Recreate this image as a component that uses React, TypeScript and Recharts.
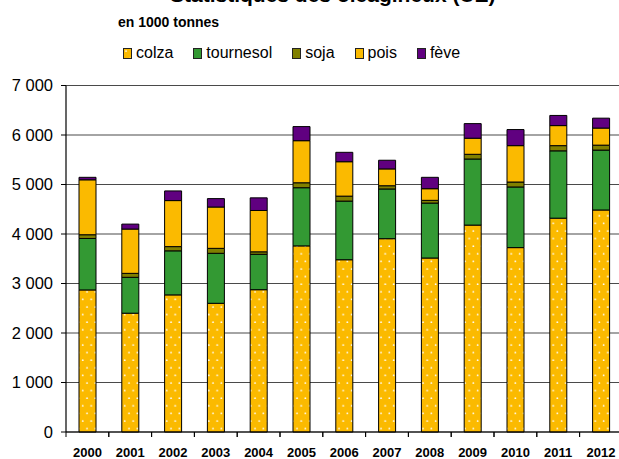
import React from "react";
import { BarChart, Bar, XAxis, YAxis, CartesianGrid } from "recharts";

const years = ["2000","2001","2002","2003","2004","2005","2006","2007","2008","2009","2010","2011","2012"];
const colza = [2870, 2400, 2770, 2600, 2875, 3760, 3480, 3905, 3515, 4180, 3725, 4320, 4485];
const tournesol = [1040, 725, 890, 1010, 715, 1175, 1185, 1005, 1110, 1335, 1225, 1360, 1210];
const soja = [75, 80, 85, 100, 50, 100, 100, 65, 55, 95, 100, 105, 100];
const pois = [1110, 895, 930, 835, 835, 850, 695, 340, 235, 325, 735, 405, 345];
const feve = [50, 100, 195, 170, 255, 285, 190, 175, 230, 295, 325, 205, 200];
const yTicks = [0, 1000, 2000, 3000, 4000, 5000, 6000, 7000];

const seriesNames = ["colza", "tournesol", "soja", "pois", "fève"];
const seriesKeys = ["colza", "tournesol", "soja", "pois", "feve"];
const seriesFills = ["url(#colzaDots)", "#339933", "#808000", "#FBBA00", "#600080"];

const data = years.map((y, i) => ({
  year: y,
  colza: colza[i],
  tournesol: tournesol[i],
  soja: soja[i],
  pois: pois[i],
  feve: feve[i],
}));

const CHART_W = 640;
const CHART_H = 459;
const MARGIN = { top: 85.5, right: 17.6, bottom: 0, left: 0 };
const Y_W = 66;
const X_H = 27;
const HALF_STEP = (CHART_W - MARGIN.left - MARGIN.right - Y_W) / years.length / 2;

const font = "Arial, 'Liberation Sans', sans-serif";

const fmt = (v: number) => {
  const s = String(v);
  return s.length > 3 ? s.slice(0, s.length - 3) + " " + s.slice(-3) : s;
};

const XTick = (props: any) => {
  const { x, y, payload } = props;
  return (
    <g>
      <line x1={x - HALF_STEP} x2={x - HALF_STEP} y1={y} y2={y + 5} stroke="#000" strokeWidth={1} />
      <line x1={x + HALF_STEP} x2={x + HALF_STEP} y1={y} y2={y + 5} stroke="#000" strokeWidth={1} />
      <text x={x} y={y + 16} dy="0.71em" textAnchor="middle" fontFamily={font} fontWeight="bold" fontSize={13} fill="#000">
        {payload.value}
      </text>
    </g>
  );
};

export default function App() {
  return (
    <div style={{ position: "absolute", left: 0, top: 0, width: 619, height: 459, overflow: "hidden", background: "#fff" }}>
      <svg width={0} height={0} style={{ position: "absolute" }}>
        <defs>
          <pattern id="colzaDots" patternUnits="userSpaceOnUse" width={8.4} height={15.2}>
            <rect x={0} y={0} width={8.4} height={15.2} fill="#FBBA00" />
            <circle cx={3} cy={3} r={0.9} fill="#fff" />
            <circle cx={7.2} cy={10.6} r={0.9} fill="#fff" />
          </pattern>
        </defs>
      </svg>
      <svg width={619} height={12} style={{ position: "absolute", left: 0, top: 0 }}>
        <text x={170} y={1.6} fontFamily={font} fontWeight="bold" fontSize={21} fill="#000">
          Statistiques des oléagineux (UE)
        </text>
      </svg>
      <div style={{ position: "absolute", left: 118, top: 13.5, lineHeight: "16px", fontFamily: font, fontWeight: "bold", fontSize: 14, whiteSpace: "nowrap" }}>
        en 1000 tonnes
      </div>
      <div style={{ position: "absolute", left: 123, top: 44, display: "flex", alignItems: "center", gap: 20, fontFamily: font, fontSize: 16, lineHeight: "18px", whiteSpace: "nowrap" }}>
        {seriesNames.map((n, i) => (
          <div key={n} style={{ display: "flex", alignItems: "center" }}>
            <svg width={9} height={11} style={{ marginRight: 4 }}>
              <rect x={0.5} y={0.5} width={8} height={10} fill={seriesFills[i]} stroke="#222" strokeWidth={1} />
            </svg>
            <span>{n}</span>
          </div>
        ))}
      </div>
      <div style={{ position: "absolute", left: 0, top: 0 }}>
        <BarChart width={CHART_W} height={CHART_H} data={data} margin={MARGIN} barSize={17}>
          <CartesianGrid vertical={false} stroke="#4a4a4a" strokeWidth={1.2} />
          <XAxis
            dataKey="year"
            height={X_H}
            axisLine={{ stroke: "#000", strokeWidth: 1.2 }}
            tickLine={false}
            tickSize={0}
            tickMargin={0}
            interval={0}
            tick={<XTick />}
          />
          <YAxis
            width={Y_W}
            domain={[0, 7000]}
            ticks={yTicks}
            interval={0}
            tickFormatter={fmt}
            axisLine={{ stroke: "#000", strokeWidth: 1.2 }}
            tickLine={{ stroke: "#000" }}
            tickSize={5}
            tickMargin={8}
            tick={{ fontFamily: font, fontSize: 16.5, fill: "#000" }}
          />
          {seriesKeys.map((k, i) => (
            <Bar key={k} dataKey={k} stackId="a" fill={seriesFills[i]} stroke="#000" strokeWidth={1} isAnimationActive={false} />
          ))}
        </BarChart>
      </div>
    </div>
  );
}
